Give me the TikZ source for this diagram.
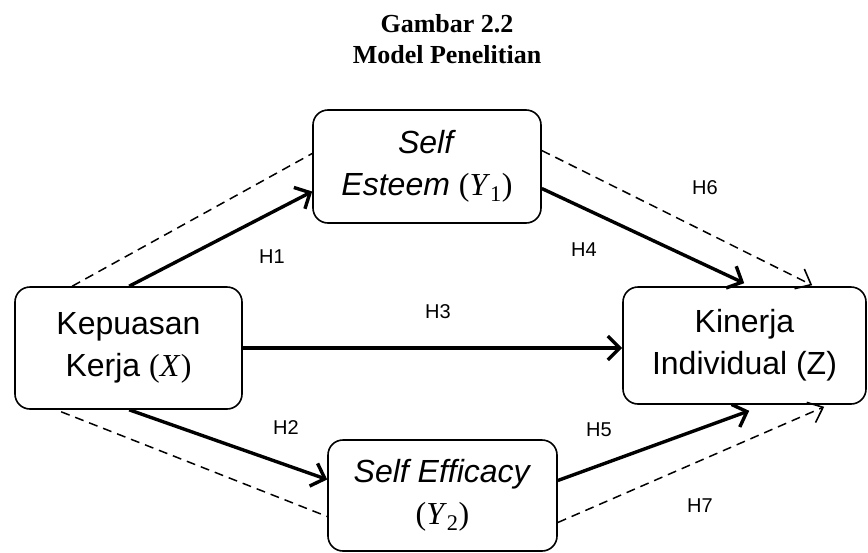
\documentclass[tikz,border=0pt]{standalone}
\usepackage{fontspec}
\setmainfont{Liberation Sans}
\newfontfamily\titlefont{Liberation Serif}
\usetikzlibrary{arrows.meta, calc}

\newcommand{\varsym}[2]{{\titlefont(\textit{#1}\textsubscript{#2})}}

\begin{document}
\begin{tikzpicture}[x=1pt, y=-1pt,
        var/.style={draw, line width=1.6pt, rounded corners=15pt, inner sep=0pt, align=center, font=\fontsize{32}{42}\selectfont},
        direct/.style={line width=3.4pt, -{Straight Barb[length=12pt, width=24pt]}},
        indirect/.style={line width=1.5pt, dash pattern=on 9pt off 6pt},
        headed/.style={-{Straight Barb[length=13pt, width=22pt, line width=1.6pt]}},
        hlabel/.style={font=\fontsize{20}{22}\selectfont}]
        \useasboundingbox (0,0) rectangle (868,552);

        \node[anchor=base, font=\titlefont\bfseries\fontsize{26}{31}\selectfont] (title1) at (447, 32) {Gambar 2.2};
        \node[anchor=base, font=\titlefont\bfseries\fontsize{26}{31}\selectfont] (title2) at (447, 63) {Model Penelitian};

        \node (kep) at (128.5, 348) [var, minimum width=227pt, minimum height=122pt] {Kepuasan\\Kerja \varsym{X}{}};
        \node (se) at (427, 166.5) [var, minimum width=228pt, minimum height=113pt] {\textit{Self}\\\textit{Esteem} \varsym{Y}{1}};
        \node (kin) at (744.5, 345.5) [var, minimum width=243pt, minimum height=117pt] {Kinerja\\Individual (Z)};
        \node (sef) at (442.5, 495.5) [var, minimum width=229pt, minimum height=111pt] {\textit{Self Efficacy}\\\varsym{Y}{2}};

        \node (h1) at (272, 257) [hlabel] {H1};
        \node (h2) at (286, 428) [hlabel] {H2};
        \node (h3) at (438, 312) [hlabel] {H3};
        \node (h4) at (584, 250) [hlabel] {H4};
        \node (h5) at (599, 430) [hlabel] {H5};
        \node (h6) at (705, 188) [hlabel] {H6};
        \node (h7) at (700, 506) [hlabel] {H7};

        % direct effects
        \draw[direct] ($(kep.north west)+(115,0)$) -- ($(se.west)+(0,25)$);
        \draw[direct] ($(kep.south west)+(115,0)$) -- ($(sef.west)+(0,-16)$);
        \draw[direct] (kep.east) -- (kin.west |- kep.east);
        \draw[direct] ($(se.east)+(0,22)$) -- ($(kin.north west)+(122,-3)$);
        \draw[direct] ($(sef.east)+(0,-15)$) -- ($(kin.south west)+(127,6)$);

        % mediated effects
        \draw[indirect] ($(kep.north west)+(58,0)$) -- ($(se.west)+(0,-13)$);
        \draw[indirect, headed] ($(se.east)+(0,-16)$) -- ($(kin.north west)+(190,-1)$);
        \draw[indirect] ($(kep.south west)+(47,2)$) -- ($(sef.west)+(0,21)$);
        \draw[indirect, headed] ($(sef.east)+(0,27)$) -- ($(kin.south west)+(202,2)$);
    \end{tikzpicture}
\end{document}
